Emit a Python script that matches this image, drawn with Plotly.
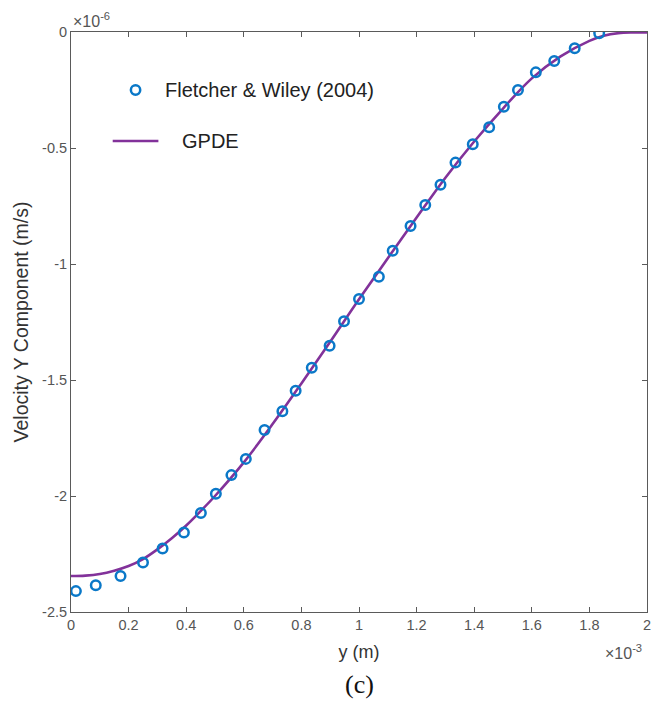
import plotly.graph_objects as go

# Data (x in units of 1e-3 m, velocity in units of 1e-6 m/s)
fw_x = [0.017, 0.086, 0.172, 0.250, 0.318, 0.392, 0.451, 0.503, 0.557, 0.607,
        0.672, 0.734, 0.780, 0.836, 0.898, 0.948, 1.000, 1.069, 1.117, 1.179,
        1.230, 1.283, 1.335, 1.395, 1.452, 1.503, 1.552, 1.614, 1.678, 1.749, 1.834]
fw_v = [-2.41, -2.385, -2.345, -2.287, -2.226, -2.157, -2.073, -1.990, -1.910, -1.840,
        -1.716, -1.635, -1.546, -1.447, -1.352, -1.247, -1.151, -1.055, -0.943, -0.836,
        -0.746, -0.658, -0.563, -0.484, -0.411, -0.322, -0.250, -0.174, -0.125, -0.070, -0.005]

gp_x = [0.0, 0.05, 0.1, 0.15, 0.2, 0.25, 0.3, 0.35, 0.4, 0.45, 0.5, 0.6, 0.7, 0.8, 0.9,
        1.0, 1.1, 1.2, 1.3, 1.4, 1.5, 1.6, 1.7, 1.8, 1.85, 1.9, 1.95, 2.0]
gp_v = [-2.345, -2.343, -2.336, -2.322, -2.302, -2.272, -2.230, -2.182, -2.127, -2.065,
        -2.000, -1.855, -1.690, -1.515, -1.335, -1.152, -0.975, -0.800, -0.628, -0.472,
        -0.330, -0.200, -0.105, -0.038, -0.016, -0.005, -0.002, -0.002]

x_ticks = [0, 0.2, 0.4, 0.6, 0.8, 1, 1.2, 1.4, 1.6, 1.8, 2]
x_labels = ["0", "0.2", "0.4", "0.6", "0.8", "1", "1.2", "1.4", "1.6", "1.8", "2"]
y_ticks = [0, -0.5, -1, -1.5, -2, -2.5]
y_labels = ["0", "-0.5", "-1", "-1.5", "-2", "-2.5"]

BLUE = "#0a78c8"
PURPLE = "#82329a"
AX = "#5a5a5a"
FONT = "Liberation Sans, Arial, sans-serif"

fig = go.Figure()
fig.add_trace(go.Scatter(x=gp_x, y=gp_v, mode="lines", line=dict(color=PURPLE, width=2.6, shape="spline"),
                         name="GPDE", showlegend=False))
fig.add_trace(go.Scatter(x=fw_x, y=fw_v, mode="markers",
                         marker=dict(symbol="circle-open", size=9.5, color=BLUE, line=dict(width=2.5, color=BLUE)),
                         name="Fletcher & Wiley (2004)", showlegend=False))

axis_common = dict(showgrid=False, zeroline=False, showline=True, linecolor=AX, linewidth=1,
                   ticks="inside", ticklen=5, tickcolor=AX, mirror="ticks", ticklabeloverflow="allow",
                   tickfont=dict(family=FONT, size=14.5, color="#555555"))

fig.update_xaxes(range=[0, 2], tickvals=x_ticks, ticktext=x_labels,
                 title=dict(text="y (m)", font=dict(family=FONT, size=18, color="#333333"), standoff=12),
                 **axis_common)
fig.update_yaxes(range=[-2.5, 0], tickvals=y_ticks, ticktext=y_labels,
                 title=dict(text="Velocity Y Component (m/s)", font=dict(family=FONT, size=19.5, color="#333333"), standoff=8),
                 **axis_common)

# Manual legend
fig.add_shape(type="circle", xref="paper", yref="paper",
              x0=(131.3 - 71) / 580, x1=(140.7 - 71) / 580,
              y0=(612 - 94.7) / 580, y1=(612 - 85.3) / 580,
              line=dict(color=BLUE, width=2.5))
fig.add_annotation(x=(164 - 71) / 580, y=(612 - 90) / 580, xref="paper", yref="paper",
                   text="Fletcher & Wiley (2004)", showarrow=False, xanchor="left", yanchor="middle",
                   font=dict(family=FONT, size=20, color="#222222"))
fig.add_shape(type="line", xref="paper", yref="paper",
              x0=(113 - 71) / 580, x1=(159 - 71) / 580,
              y0=(612 - 141) / 580, y1=(612 - 141) / 580,
              line=dict(color=PURPLE, width=2.6))
fig.add_annotation(x=(181 - 71) / 580, y=(612 - 141) / 580, xref="paper", yref="paper",
                   text="GPDE", showarrow=False, xanchor="left", yanchor="middle",
                   font=dict(family=FONT, size=20, color="#222222"))

# Exponent labels
fig.add_annotation(x=0, y=1, xref="paper", yref="paper", text="×10<sup>-6</sup>", showarrow=False,
                   xanchor="left", yanchor="bottom", yshift=0, font=dict(family=FONT, size=16, color="#555555"))
fig.add_annotation(x=1, y=0, xref="paper", yref="paper", text="×10<sup>-3</sup>", showarrow=False,
                   xanchor="right", yanchor="top", yshift=-28, xshift=-3, font=dict(family=FONT, size=16, color="#555555"))
# Caption
fig.add_annotation(x=0.5, y=0, xref="paper", yref="paper", text="(c)", showarrow=False,
                   xanchor="center", yanchor="middle", yshift=-72,
                   font=dict(family="Liberation Serif, Times New Roman, serif", size=26, color="#111111"))

fig.update_layout(width=655, height=709, margin=dict(l=71, r=4, t=32, b=97),
                  plot_bgcolor="white", paper_bgcolor="white")

fig.write_html("out.html")
